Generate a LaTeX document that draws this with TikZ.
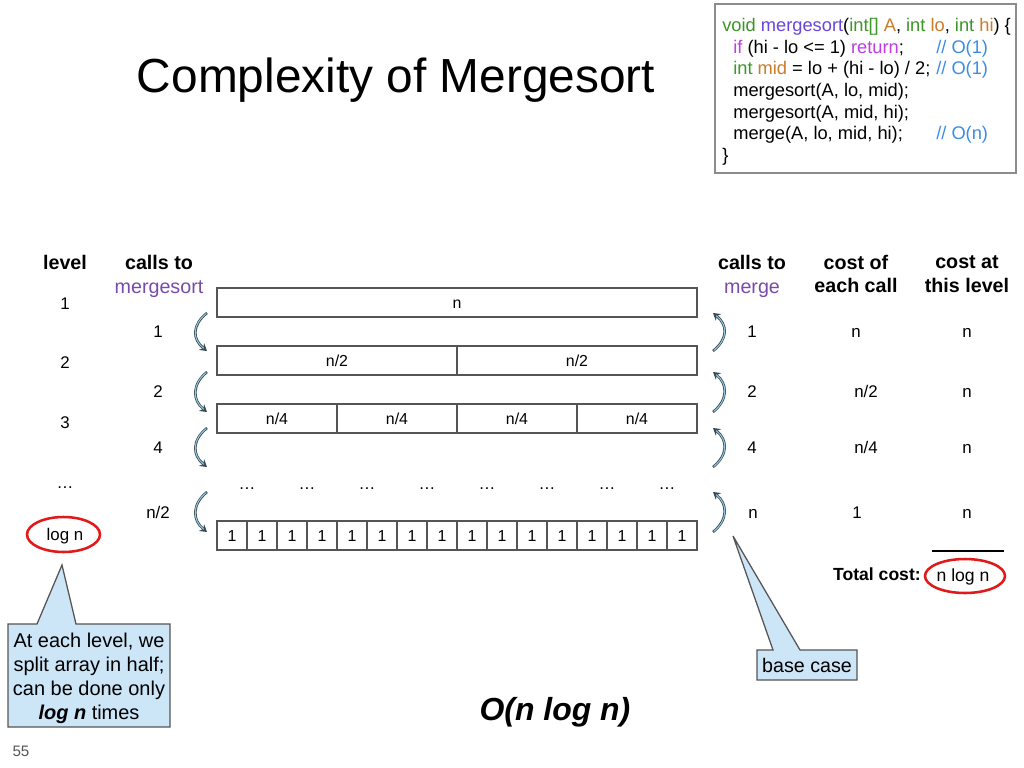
\documentclass[tikz,border=0pt]{standalone}
\usepackage{fontspec}
\setmainfont{Liberation Sans}
\usepackage{tikz}
\usetikzlibrary{arrows.meta}
\definecolor{cgreen}{RGB}{60,150,40}
\definecolor{cpurple}{RGB}{105,70,220}
\definecolor{corange}{RGB}{200,125,45}
\definecolor{cmagenta}{RGB}{190,60,225}
\definecolor{cblue}{RGB}{60,140,230}
\definecolor{hdrpurple}{RGB}{120,75,170}
\definecolor{cellgray}{RGB}{85,85,85}
\definecolor{boxgray}{RGB}{140,140,140}
\definecolor{arrowdark}{RGB}{55,75,85}
\definecolor{arrowlight}{RGB}{150,200,225}
\definecolor{notefill}{RGB}{204,229,247}
\definecolor{markred}{RGB}{225,25,25}

\begin{document}
\begin{tikzpicture}[x=0.025cm,y=-0.025cm,
  lbl/.style={inner sep=0, text height=8.6pt, text depth=0pt, font=\fontsize{12}{14}\selectfont},
  hdr/.style={inner sep=0, align=center, font=\fontsize{14}{17}\selectfont},
  cell/.style={draw=cellgray, line width=0.85pt, minimum height=0.725cm, inner sep=0,
    text height=8.1pt, text depth=0pt, font=\fontsize{11.3}{13}\selectfont},
  code/.style={anchor=base west, inner sep=0, font=\fontsize{13}{15}\selectfont},
  callarrow/.style={draw=arrowdark, line width=1.8pt, -{Stealth[length=5pt,width=6pt]},
    postaction={draw=arrowlight, line width=0.7pt, -, shorten >=3pt, shorten <=0.6pt}},
  redring/.style={draw=markred, line width=1.8pt},
  note/.style={fill=notefill, draw=cellgray, line width=0.9pt}]
  \useasboundingbox (0,0) rectangle (1024,768);
  \fill[white] (0,0) rectangle (1024,768);

  \node[font=\fontsize{34}{40}\selectfont] (title) at (396,80) {Complexity of Mergesort};

  \draw[draw=boxgray, line width=1.1pt] (715,4) rectangle (1016,173);
  \node[code] (code1) at (722,31.5) {\textcolor{cgreen}{void} \textcolor{cpurple}{mergesort}(\textcolor{cgreen}{int[]} \textcolor{corange}{A}, \textcolor{cgreen}{int} \textcolor{corange}{lo}, \textcolor{cgreen}{int} \textcolor{corange}{hi}) \{};
  \node[code] (code2) at (733,53.2) {\textcolor{cmagenta}{if} (hi - lo <= 1) \textcolor{cmagenta}{return};};
  \node[code] (code3) at (733,74.8) {\textcolor{cgreen}{int} \textcolor{corange}{mid} = lo + (hi - lo) / 2;};
  \node[code] (code4) at (733,96.5) {mergesort(A, lo, mid);};
  \node[code] (code5) at (733,118.2) {mergesort(A, mid, hi);};
  \node[code] (code6) at (733,139.8) {merge(A, lo, mid, hi);};
  \node[code] (code7) at (722,161.5) {\}};
  \node[code, text=cblue] (com2) at (936,53.2) {// O(1)};
  \node[code, text=cblue] (com3) at (936,74.8) {// O(1)};
  \node[code, text=cblue] (com6) at (936,139.8) {// O(n)};

  \node[hdr, font=\fontsize{14}{17}\selectfont\bfseries] (hlevel) at (65,262) {level};
  \node[hdr] (hsort) at (159,276) {\textbf{calls to}\\\textcolor{hdrpurple}{mergesort}};
  \node[hdr] (hmerge) at (752,276) {\textbf{calls to}\\\textcolor{hdrpurple}{merge}};
  \node[hdr, font=\fontsize{14}{17}\selectfont\bfseries] (hcost) at (856,274) {cost of\\each call};
  \node[hdr, font=\fontsize{14}{17}\selectfont\bfseries] (htotal) at (967,274) {cost at\\this level};

  \node[lbl] (lev1) at (65,303) {1};
  \node[lbl] (lev2) at (65,362) {2};
  \node[lbl] (lev3) at (65,422) {3};
  \node[lbl] (lev4) at (65,482) {…};
  \node[lbl] (levn) at (65,534) {log n};
  \draw[redring] (63.5,534.5) ellipse [x radius=36.5, y radius=17.5];

  \node[lbl] (ms1) at (158,331) {1};
  \node[lbl] (ms2) at (158,391) {2};
  \node[lbl] (ms3) at (158,447) {4};
  \node[lbl] (ms4) at (158,512) {n/2};

  \node[cell, minimum width=12cm] (r1c0) at (457,302.5) {n};
  \foreach \i in {0,1}
    \node[cell, minimum width=6cm] (r2c\i) at (337+240*\i,360.5) {n/2};
  \foreach \i in {0,...,3}
    \node[cell, minimum width=3cm] (r3c\i) at (277+120*\i,418.5) {n/4};
  \foreach \i in {0,...,7}
    \node[lbl] (r4c\i) at (247+60*\i,483) {…};
  \foreach \i in {0,...,15}
    \node[cell, minimum width=0.75cm] (r5c\i) at (232+30*\i,535.5) {1};

  \foreach \a/\b in {313/351,372/412,428/467,492/532} {
    \draw[callarrow] (207,\a) .. controls (192,\a+12) and (192,\b-12) .. (207,\b);
    \draw[callarrow] (713,\b) .. controls (728,\b-12) and (728,\a+12) .. (713,\a);
  }

  \node[lbl] (mg1) at (752,331) {1};
  \node[lbl] (mg2) at (752,391) {2};
  \node[lbl] (mg3) at (752,447) {4};
  \node[lbl] (mg4) at (753,512) {n};
  \node[lbl] (ec1) at (856,331) {n};
  \node[lbl] (ec2) at (866,391) {n/2};
  \node[lbl] (ec3) at (866,447) {n/4};
  \node[lbl] (ec4) at (857,512) {1};
  \foreach \y [count=\i] in {331,391,447,512}
    \node[lbl] (cl\i) at (967,\y) {n};

  \draw[line width=1.5pt] (932,551) -- (1004,551);
  \node[lbl, anchor=east, text height=9pt, font=\fontsize{12.5}{14}\selectfont\bfseries] (totlbl) at (921,574) {Total cost:};
  \node[lbl, text height=9pt, font=\fontsize{12.5}{14}\selectfont] (totval) at (963,575) {n log n};
  \draw[redring] (965,576) ellipse [x radius=40, y radius=17];

  \draw[note] (8,624) -- (37,624) -- (62,565) -- (76,624) -- (170,624) -- (170,727) -- (8,727) -- cycle;
  \node[hdr, font=\fontsize{14.2}{17}\selectfont] (splitnote) at (89,678.5) {At each level, we\\split array in half;\\can be done only\\\textbf{\textit{log n}} times};

  \draw[note] (757,650) -- (773,650) -- (733,536) -- (800,650) -- (857,650) -- (857,680) -- (757,680) -- cycle;
  \node[hdr, text height=10pt, text depth=0pt, font=\fontsize{14}{17}\selectfont] (basenote) at (807,665) {base case};

  \node[font=\fontsize{22.7}{26}\selectfont\bfseries\itshape] (bigo) at (555,712) {O(n log n)};
  \node[lbl, text height=7.7pt, text=cellgray, font=\fontsize{10.8}{12}\selectfont] (pagenum) at (21,751) {55};
\end{tikzpicture}
\end{document}
